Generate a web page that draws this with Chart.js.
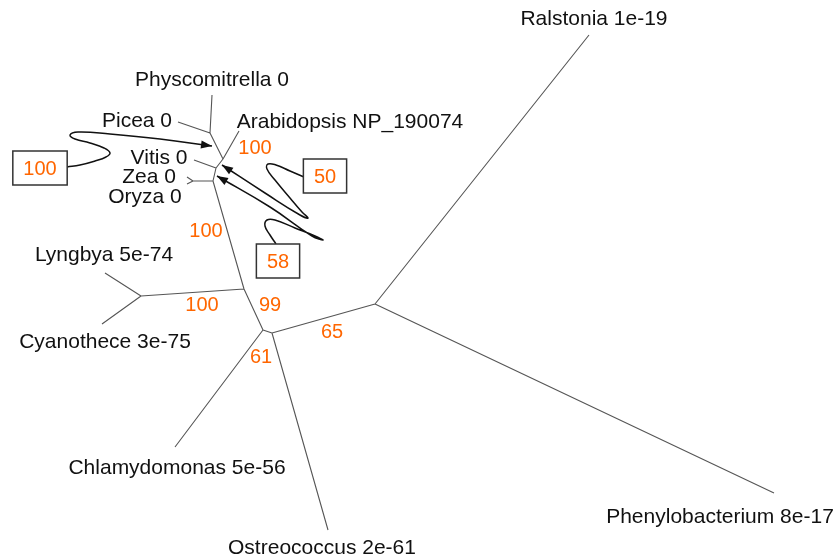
<!DOCTYPE html>
<html>
<head>
<meta charset="utf-8">
<script src="https://cdn.jsdelivr.net/npm/chart.js"></script>
<style>
  html, body { margin: 0; padding: 0; background: #fff; }
  #treeChart { display: block; }
</style>
</head>
<body>
<canvas id="treeChart" width="836" height="560"></canvas>
<script>
// tree nodes (tips + internal nodes), in layout units
const nodeNames = ["Ralstonia", "Phenylobacterium", "Ostreococcus", "Chlamydomonas", "Cyanothece", "Lyngbya",
  "Physcomitrella", "Picea", "Arabidopsis", "Vitis", "Zea", "Oryza",
  "n1", "n2", "n3", "n4", "n5", "n6", "n7", "n8", "n9", "n10"];
const nodeX = [589, 774, 328, 175, 102, 105, 212, 178, 239, 194, 187, 187,
  375, 272, 263, 244, 141, 213, 193, 216, 223, 210];
const nodeY = [35, 493, 530, 447, 324, 273, 95, 122, 131, 160, 177, 184,
  304, 333, 330, 289, 296, 181, 181, 168, 159, 133];

// branches as [from, to]
const edges = [
  ["n1", "Ralstonia"], ["n1", "Phenylobacterium"], ["n1", "n2"],
  ["n2", "Ostreococcus"], ["n2", "n3"], ["n3", "Chlamydomonas"], ["n3", "n4"],
  ["n4", "n5"], ["n5", "Lyngbya"], ["n5", "Cyanothece"], ["n4", "n6"],
  ["n6", "n7"], ["n7", "Zea"], ["n7", "Oryza"], ["n6", "n8"], ["n8", "Vitis"],
  ["n8", "n9"], ["n9", "Arabidopsis"], ["n9", "n10"], ["n10", "Physcomitrella"], ["n10", "Picea"]
];

// tip labels
const taxa = ["Ralstonia 1e-19", "Phenylobacterium 8e-17", "Ostreococcus 2e-61", "Chlamydomonas 5e-56",
  "Cyanothece 3e-75", "Lyngbya 5e-74", "Physcomitrella 0", "Picea 0", "Arabidopsis NP_190074",
  "Vitis 0", "Zea 0", "Oryza 0"];
const taxaX = [594, 720, 322, 177, 105, 104, 212, 137, 350, 159, 149, 145];
const taxaY = [19, 517, 548, 468, 342, 255, 80, 121, 122, 158, 177, 197];

// bootstrap support values
const support = ["100", "100", "100", "99", "65", "61"];
const supportX = [255, 206, 202, 270, 332, 261];
const supportY = [148, 231, 305, 305, 332, 357];

// boxed support values with their callout curves
const boxed = ["100", "50", "58"];
const boxX = [40, 325, 278];
const boxY = [168, 176, 261];
const callout100X = [67, 80, 95, 106, 110, 104, 90, 75, 70, 78, 110, 160, 212];
const callout100Y = [167, 165, 161, 157, 153, 148, 143, 139, 135, 132, 134, 139, 146];
const callout50X = [304, 290, 276, 268, 267, 275, 290, 302, 308, 300, 265, 222];
const callout50Y = [177, 171, 165, 164, 169, 180, 198, 212, 218, 215, 193, 165];
const callout58X = [276, 270, 265, 267, 275, 295, 315, 323, 312, 270, 217];
const callout58Y = [244, 235, 226, 220, 220, 228, 236, 240, 236, 207, 176];

function toPoints(xs, ys) {
  return xs.map(function (x, i) { return { x: x, y: ys[i] }; });
}

let branchData = [];
edges.forEach(function (e) {
  let a = nodeNames.indexOf(e[0]);
  let b = nodeNames.indexOf(e[1]);
  branchData.push({ x: nodeX[a], y: nodeY[a] }, { x: nodeX[b], y: nodeY[b] }, { x: null, y: null });
});

const calloutStyle = {
  type: "line",
  borderColor: "#111",
  borderWidth: 1.5,
  pointRadius: 0,
  tension: 0.45,
  fill: false,
};

const data = {
  datasets: [
    {
      type: "line",
      data: branchData,
      borderColor: "#555",
      borderWidth: 1.1,
      pointRadius: 0,
      tension: 0,
      spanGaps: false,
    },
    Object.assign({ data: toPoints(callout100X, callout100Y), arrow: true }, calloutStyle),
    Object.assign({ data: toPoints(callout50X, callout50Y), arrow: true }, calloutStyle),
    Object.assign({ data: toPoints(callout58X, callout58Y), arrow: true }, calloutStyle),
  ],
};

// labels, boxes and arrow heads drawn on top, placed through the scales
const treeLabels = {
  id: "treeLabels",
  afterDatasetsDraw(chart) {
    const ctx = chart.ctx;
    const xs = chart.scales.x;
    const ys = chart.scales.y;
    ctx.save();
    ctx.textAlign = "center";
    ctx.textBaseline = "middle";

    ctx.fillStyle = "#111";
    ctx.font = "21px 'Liberation Sans', Arial, sans-serif";
    taxa.forEach(function (t, i) {
      ctx.fillText(t, xs.getPixelForValue(taxaX[i]), ys.getPixelForValue(taxaY[i]));
    });

    ctx.fillStyle = "#ff6600";
    ctx.font = "20px 'Liberation Sans', Arial, sans-serif";
    support.forEach(function (t, i) {
      ctx.fillText(t, xs.getPixelForValue(supportX[i]), ys.getPixelForValue(supportY[i]));
    });

    boxed.forEach(function (t, i) {
      let px = xs.getPixelForValue(boxX[i]);
      let py = ys.getPixelForValue(boxY[i]);
      let w = ctx.measureText(t).width + 21;
      ctx.fillStyle = "#fff";
      ctx.fillRect(px - w / 2, py - 17, w, 34);
      ctx.strokeStyle = "#333";
      ctx.lineWidth = 1.5;
      ctx.strokeRect(px - w / 2, py - 17, w, 34);
      ctx.fillStyle = "#ff6600";
      ctx.fillText(t, px, py + 1);
    });

    // arrow heads at the end of each callout
    chart.data.datasets.forEach(function (ds) {
      if (!ds.arrow) return;
      let n = ds.data.length;
      let x1 = xs.getPixelForValue(ds.data[n - 2].x), y1 = ys.getPixelForValue(ds.data[n - 2].y);
      let x2 = xs.getPixelForValue(ds.data[n - 1].x), y2 = ys.getPixelForValue(ds.data[n - 1].y);
      let ang = Math.atan2(y2 - y1, x2 - x1);
      ctx.fillStyle = "#111";
      ctx.beginPath();
      ctx.moveTo(x2, y2);
      ctx.lineTo(x2 - 11 * Math.cos(ang) + 4 * Math.sin(ang), y2 - 11 * Math.sin(ang) - 4 * Math.cos(ang));
      ctx.lineTo(x2 - 11 * Math.cos(ang) - 4 * Math.sin(ang), y2 - 11 * Math.sin(ang) + 4 * Math.cos(ang));
      ctx.closePath();
      ctx.fill();
    });
    ctx.restore();
  },
};

const config = {
  type: "scatter",
  data: data,
  options: {
    responsive: false,
    animation: false,
    devicePixelRatio: 1,
    events: [],
    layout: { padding: 0 },
    scales: {
      x: { type: "linear", min: 0, max: 836, display: false },
      y: { type: "linear", min: 0, max: 560, reverse: true, display: false },
    },
    plugins: {
      legend: { display: false },
      tooltip: { enabled: false },
    },
  },
  plugins: [treeLabels],
};

const treeChart = new Chart(document.getElementById("treeChart"), config);
</script>
</body>
</html>
